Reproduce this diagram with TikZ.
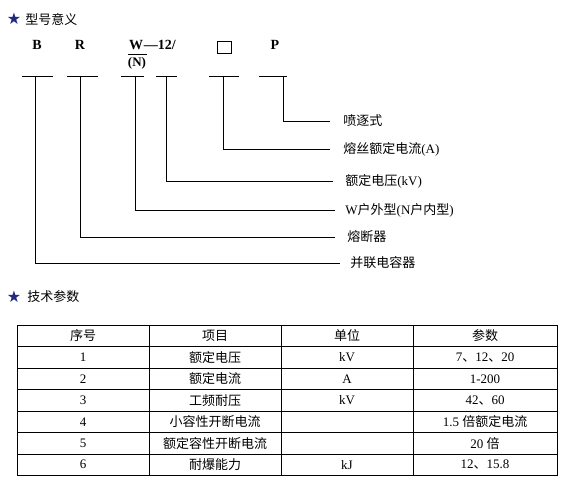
\documentclass[tikz,border=0pt]{standalone}
\usepackage{fontspec}
\setmainfont{Liberation Serif}
\newfontfamily\cjk{Noto Sans CJK SC}
\newfontfamily\symfont{DejaVu Sans}
\newcommand{\zh}[1]{{\cjk #1}}
\definecolor{starblue}{HTML}{1F2A80}
\begin{document}
\begin{tikzpicture}[x=1pt,y=-1pt,line width=0.8pt,
  startitle/.style={text=starblue,font=\symfont\fontsize{16}{18}\selectfont,inner sep=0},
  titletext/.style={anchor=west,font=\cjk\fontsize{13}{15}\selectfont,inner sep=0},
  codeletter/.style={font=\bfseries\fontsize{14}{16}\selectfont,inner sep=0},
  lab/.style={anchor=west,font=\fontsize{13}{15}\selectfont,inner sep=0},
  cell/.style={font=\fontsize{13}{15}\selectfont,inner sep=0},
  conn/.style={line width=0.8pt}]
\useasboundingbox (0,0) rectangle (567,486);

% ---- title 1
\node[startitle] (s1) at (14,19) {★};
\node[titletext] (t1) at (25,19) {型号意义};

% ---- code letters
\node[codeletter] (B) at (37,45) {B};
\node[codeletter] (R) at (80,45) {R};
\node[codeletter] (W) at (136,45) {W};
\node[codeletter,anchor=west] (D12) at (W.east) {—12/};
\node[codeletter,font=\bfseries\fontsize{13}{15}\selectfont] (N) at (137,63) {(N)};
\draw[line width=0.7pt] (128,54.5) -- (147,54.5);
\node[draw,line width=0.7pt,minimum width=14pt,minimum height=12pt,inner sep=0] (box) at (224.5,47.5) {};
\node[codeletter] (P) at (275,45) {P};

% ---- T bars
\foreach \i/\xa/\xb/\xv in {1/22/53/35,2/67/98/80,3/121/144/135,4/156/177/166,5/209/239/223,6/259/287/283}{
  \coordinate (l\i) at (\xa,76);
  \coordinate (r\i) at (\xb,76);
  \coordinate (v\i) at (\xv,76);
  \draw[conn] (l\i) -- (r\i);
}

% ---- labels
\node[lab] (L6) at (343,121) {\zh{喷逐式}};
\node[lab] (L5) at (343,149) {\zh{熔丝额定电流}(A)};
\node[lab] (L4) at (345,181) {\zh{额定电压}(kV)};
\node[lab] (L3) at (345,210) {W\zh{户外型}(N\zh{户内型})};
\node[lab] (L2) at (347,237) {\zh{熔断器}};
\node[lab] (L1) at (350,263) {\zh{并联电容器}};

\coordinate (e6) at (330,121);
\coordinate (e5) at (330,149);
\coordinate (e4) at (333,181);
\coordinate (e3) at (335,210);
\coordinate (e2) at (335,237);
\coordinate (e1) at (340,263);
\foreach \i in {1,...,6}{\draw[conn] (v\i) |- (e\i);}

% ---- title 2
\node[startitle] (s2) at (14,297) {★};
\node[titletext] (t2) at (27,297) {技术参数};

% ---- table
\foreach \x in {17,149,281,413,557}{\draw[line width=0.8pt] (\x,325) -- (\x,475.5);}
\foreach \y in {325,346.5,368,389.5,411,432.5,454,475.5}{\draw[line width=0.8pt] (17,\y) -- (557,\y);}

\foreach \r/\a/\b/\c/\d in {
  0/\zh{序号}/\zh{项目}/\zh{单位}/\zh{参数},
  1/1/\zh{额定电压}/kV/7\zh{、}12\zh{、}20,
  2/2/\zh{额定电流}/A/1-200,
  3/3/\zh{工频耐压}/kV/42\zh{、}60,
  4/4/\zh{小容性开断电流}//1.5 \zh{倍额定电流},
  5/5/\zh{额定容性开断电流}//20 \zh{倍},
  6/6/\zh{耐爆能力}/kJ/12\zh{、}15.8}{
  \pgfmathsetmacro{\yc}{335.75+21.5*\r}
  \node[cell] (c\r a) at (83,\yc) {\a};
  \node[cell] (c\r b) at (215,\yc) {\b};
  \node[cell] (c\r c) at (347,\yc) {\c};
  \node[cell] (c\r d) at (485,\yc) {\d};
}
\end{tikzpicture}
\end{document}
